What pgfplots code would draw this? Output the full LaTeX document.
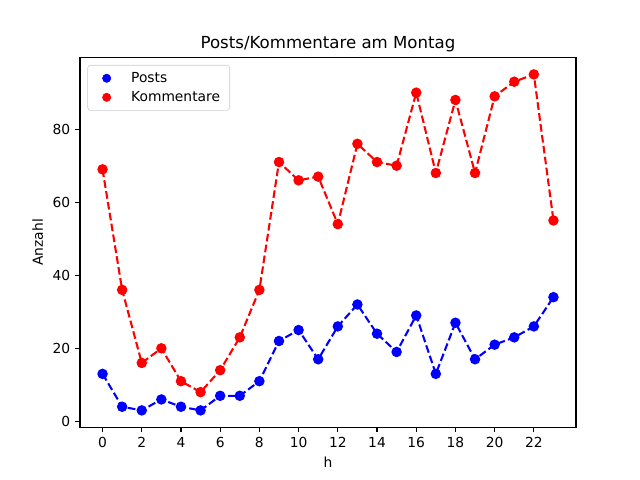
\documentclass[border=0pt]{standalone}
\usepackage{pgfplots}
\pgfplotsset{compat=1.18}
\usepackage{fontspec}
\setmainfont{DejaVu Sans}
\begin{document}
\begin{tikzpicture}
\useasboundingbox (0,0) rectangle (6.4in,4.8in);
\begin{axis}[
  at={(0.8in,0.528in)}, anchor=south west,
  scale only axis, width=4.96in, height=3.696in,
  xmin=-1.15, xmax=24.15, ymin=-1.6, ymax=99.6,
  xtick={0,2,...,22}, ytick={0,20,40,60,80},
  tick align=outside, major tick length=3.5pt,
  tick style={black, line width=0.8pt},
  axis line style={line width=0.8pt},
  xtick pos=bottom, ytick pos=left,
  /pgf/number format/assume math mode=true,
  ticklabel style={font=\fontsize{10}{12}\selectfont},
  label style={font=\fontsize{10}{12}\selectfont},
  title style={font=\fontsize{12}{14}\selectfont, yshift=-5.5pt},
  title={Posts/Kommentare am Montag},
  xlabel={h}, ylabel={Anzahl},
  legend style={font=\fontsize{10}{12}\selectfont, draw=black!20, rounded corners=2pt, row sep=1pt, inner xsep=3pt, inner ysep=3pt, at={(0.015,0.98)}, anchor=north west,
    nodes={inner xsep=4pt}},
  legend cell align=left,
]
\addplot[forget plot, blue, dashed, dash pattern=on 5.55pt off 2.4pt, line width=1.5pt, mark=*, mark size=3pt, mark options={solid}]
  coordinates {(0,13)(1,4)(2,3)(3,6)(4,4)(5,3)(6,7)(7,7)(8,11)(9,22)(10,25)(11,17)(12,26)(13,32)(14,24)(15,19)(16,29)(17,13)(18,27)(19,17)(20,21)(21,23)(22,26)(23,34)};
\addplot[forget plot, red, dashed, dash pattern=on 5.55pt off 2.4pt, line width=1.5pt, mark=*, mark size=3pt, mark options={solid}]
  coordinates {(0,69)(1,36)(2,16)(3,20)(4,11)(5,8)(6,14)(7,23)(8,36)(9,71)(10,66)(11,67)(12,54)(13,76)(14,71)(15,70)(16,90)(17,68)(18,88)(19,68)(20,89)(21,93)(22,95)(23,55)};
\addlegendimage{legend image code/.code={\path (0pt,0pt) (24pt,0pt); \fill[blue] (10.5pt,0pt) circle (3pt);}}
\addlegendentry{Posts}
\addlegendimage{legend image code/.code={\path (0pt,0pt) (24pt,0pt); \fill[red] (10.5pt,0pt) circle (3pt);}}
\addlegendentry{Kommentare}
\end{axis}
\end{tikzpicture}
\end{document}
